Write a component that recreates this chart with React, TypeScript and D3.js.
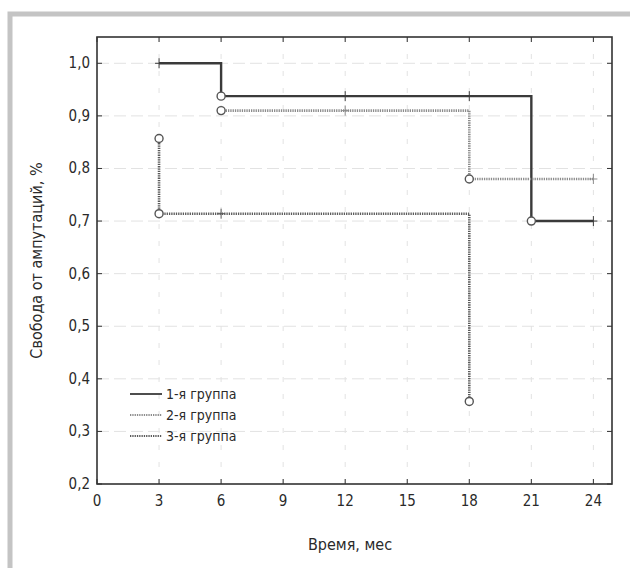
import React from 'react';
import * as d3 from 'd3';

// ступенчатые кривые Каплана-Мейера: [время, доля]
const group1 = [[3, 1.0], [6, 1.0], [6, 0.9375], [21, 0.9375], [21, 0.70], [24, 0.70]];
const group2 = [[6, 0.91], [18, 0.91], [18, 0.78], [24, 0.78]];
const group3 = [[3, 0.857], [3, 0.714], [18, 0.714], [18, 0.357]];

// события (кружки) и цензурированные (+)
const events1 = [[6, 0.9375], [21, 0.70]];
const events2 = [[6, 0.91], [18, 0.78]];
const events3 = [[3, 0.857], [3, 0.714], [18, 0.357]];
const censored1 = [[3, 1.0], [12, 0.9375], [18, 0.9375], [24, 0.70]];
const censored2 = [[12, 0.91], [24, 0.78]];
const censored3 = [[6, 0.714]];

const xTicks = [0, 3, 6, 9, 12, 15, 18, 21, 24];
const yTicks = [0.2, 0.3, 0.4, 0.5, 0.6, 0.7, 0.8, 0.9, 1.0];
const legendLabels = ['1-я группа', '2-я группа', '3-я группа'];

const font = '"DejaVu Sans Condensed", "Liberation Sans Narrow", sans-serif';

const App = () => {
    const left = 97, right = 612, top = 37, bottom = 484;
    const x = d3.scaleLinear().domain([0, 24.9]).range([left, right]);
    const y = d3.scaleLinear().domain([0.2, 1.05]).range([bottom, top]);
    const line = d3.line<number[]>().x(d => x(d[0])).y(d => y(d[1]));

    const series = [
        { pts: group1, ev: events1, cen: censored1, stroke: '#3a3a3a', width: 2.4, dash: null },
        { pts: group2, ev: events2, cen: censored2, stroke: '#8c8c8c', width: 2.6, dash: '1.3,1' },
        { pts: group3, ev: events3, cen: censored3, stroke: '#5a5a5a', width: 2.6, dash: '1.3,1' },
    ];

    const fmt = (v: number) => v.toFixed(1).replace('.', ',');

    return (
        <svg width={630} height={568} style={{ position: 'absolute', left: 0, top: 0, background: '#fff' }}>
            {/* рамка рисунка */}
            <path d="M10,568 V14 H630" fill="none" stroke="#c4c4c4" strokeWidth={5} />

            {/* сетка */}
            {xTicks.slice(1).map(t => (
                <line key={'gx' + t} x1={x(t)} x2={x(t)} y1={top} y2={bottom}
                    stroke="#e2e2e2" strokeWidth={1} strokeDasharray="5,12" />
            ))}
            {yTicks.slice(1).map(t => (
                <line key={'gy' + t} x1={left} x2={right} y1={y(t)} y2={y(t)}
                    stroke="#e2e2e2" strokeWidth={1} strokeDasharray="12,5" />
            ))}

            {/* рамка графика */}
            <rect x={left} y={top} width={right - left} height={bottom - top} fill="none" stroke="#333" strokeWidth={1.6} />

            {/* засечки */}
            {xTicks.map(t => (
                <g key={'tx' + t} stroke="#333" strokeWidth={1}>
                    <line x1={x(t)} x2={x(t)} y1={bottom} y2={bottom - 5} />
                    <line x1={x(t)} x2={x(t)} y1={top} y2={top + 5} />
                </g>
            ))}
            {yTicks.map(t => (
                <g key={'ty' + t} stroke="#333" strokeWidth={1}>
                    <line x1={left} x2={left + 5} y1={y(t)} y2={y(t)} />
                    <line x1={right} x2={right - 5} y1={y(t)} y2={y(t)} />
                </g>
            ))}

            {/* подписи осей */}
            {xTicks.map(t => (
                <text key={'lx' + t} x={x(t)} y={bottom + 22} textAnchor="middle"
                    fontFamily={font} fontSize={15} fill="#2a2a2a">{t}</text>
            ))}
            {yTicks.map(t => (
                <text key={'ly' + t} x={left - 7} y={y(t) + 5} textAnchor="end"
                    fontFamily={font} fontSize={15} fill="#2a2a2a">{fmt(t)}</text>
            ))}
            <text x={350} y={550} textAnchor="middle" fontFamily={font} fontSize={16} fill="#2a2a2a">Время, мес</text>
            <text transform={`translate(42,${(top + bottom) / 2}) rotate(-90)`} textAnchor="middle"
                fontFamily={font} fontSize={16} fill="#2a2a2a">Свобода от ампутаций, %</text>

            {/* кривые */}
            {series.map((s, i) => (
                <g key={'s' + i}>
                    <path d={line(s.pts) || ''} fill="none" stroke={s.stroke} strokeWidth={s.width}
                        strokeDasharray={s.dash || undefined} />
                    {s.cen.map((c, j) => (
                        <g key={'c' + j} stroke={s.stroke} strokeWidth={1}>
                            <line x1={x(c[0])} x2={x(c[0])} y1={y(c[1]) - 5} y2={y(c[1]) + 5} />
                            <line x1={x(c[0]) - 4} x2={x(c[0]) + 4} y1={y(c[1])} y2={y(c[1])} />
                        </g>
                    ))}
                    {s.ev.map((c, j) => (
                        <circle key={'e' + j} cx={x(c[0])} cy={y(c[1])} r={4}
                            fill="#fff" stroke="#555" strokeWidth={1.4} />
                    ))}
                </g>
            ))}

            {/* легенда */}
            {legendLabels.map((l, i) => (
                <g key={'lg' + i} transform={`translate(130,${394 + i * 21})`}>
                    <line x1={0} x2={32} y1={0} y2={0} stroke={series[i].stroke} strokeWidth={series[i].width - 0.6}
                        strokeDasharray={series[i].dash || undefined} />
                    <text x={36} y={5} fontFamily={font} fontSize={14} fill="#2a2a2a">{l}</text>
                </g>
            ))}
        </svg>
    );
};

export default App;
